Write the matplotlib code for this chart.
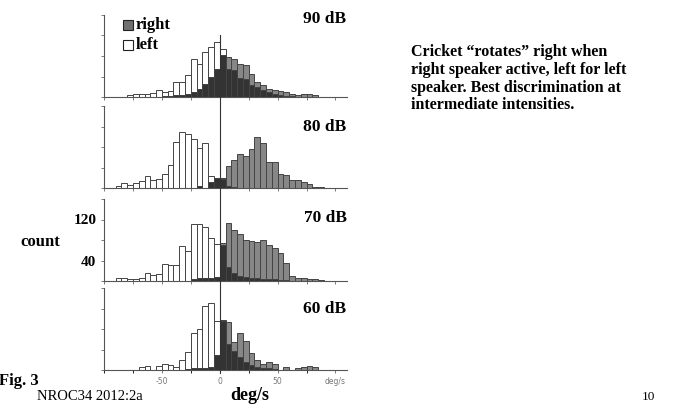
import numpy as np
import matplotlib
matplotlib.use("Agg")
import matplotlib.pyplot as plt
from matplotlib.patches import Rectangle

# bin left edges, deg/s (5 deg/s bins from -90 to +85)
edges = np.arange(-90, 90, 5)

# counts per bin, index 0 -> -90..-85
levels = ["90 dB", "80 dB", "70 dB", "60 dB"]

left_90 = [0, 0, 4, 5, 5, 6, 8, 13, 10, 12, 29, 29, 42, 75, 65, 88, 98, 107,
           94, 55, 52, 38, 36, 23, 20, 13, 10, 6, 4, 2, 1, 0, 0, 0, 0, 0]
right_90 = [0, 0, 0, 0, 0, 0, 0, 0, 1, 2, 3, 4, 6, 10, 16, 26, 40, 55,
            81, 78, 75, 65, 62, 45, 29, 23, 16, 13, 11, 9, 6, 3, 5, 5, 3, 0]

left_80 = [3, 10, 5, 10, 13, 23, 16, 18, 28, 45, 90, 109, 106, 96, 79, 88, 23, 20,
           18, 4, 2, 0, 0, 0, 0, 0, 0, 0, 0, 0, 0, 0, 0, 0, 0, 0]
right_80 = [0, 0, 0, 0, 0, 0, 0, 0, 0, 0, 0, 0, 0, 0, 3, 0, 12, 20,
            20, 43, 54, 67, 62, 77, 100, 88, 51, 51, 28, 25, 16, 15, 12, 7, 2, 2]

left_70 = [5, 6, 4, 4, 6, 16, 11, 13, 34, 31, 31, 68, 58, 112, 112, 106, 83, 73,
           70, 28, 16, 10, 8, 6, 5, 4, 3, 3, 2, 1, 0, 0, 0, 0, 0, 0]
right_70 = [0, 0, 0, 0, 0, 0, 0, 0, 0, 0, 0, 0, 0, 4, 5, 6, 6, 8,
            74, 113, 100, 92, 80, 78, 76, 80, 70, 65, 55, 36, 10, 6, 5, 3, 3, 2]

left_60 = [0, 0, 0, 0, 5, 8, 0, 8, 12, 10, 6, 20, 36, 72, 80, 124, 131, 96,
           95, 50, 38, 25, 15, 10, 6, 4, 3, 2, 0, 0, 0, 0, 0, 0, 0, 0]
right_60 = [0, 0, 0, 0, 0, 0, 0, 0, 0, 0, 0, 0, 2, 3, 3, 4, 5, 29,
            97, 94, 55, 73, 57, 33, 20, 11, 16, 11, 0, 5, 0, 4, 6, 8, 6, 0]

lefts = [left_90, left_80, left_70, left_60]
rights = [right_90, right_80, right_70, right_60]

W, H = 681, 409
fig = plt.figure(figsize=(W / 100, H / 100), dpi=100)
fig.patch.set_facecolor("white")

serif = "Liberation Serif"
baselines = [97, 188, 281, 370]
panel_h = 82
x0, x1 = 104, 347

gray = "#878787"
dark = "#333333"
edge = "#444444"

axes = []
for i, (lft, rgt) in enumerate(zip(lefts, rights)):
    b = baselines[i]
    ax = fig.add_axes([x0 / W, (H - b) / H, (x1 - x0) / W, panel_h / H])
    lft = np.array(lft)
    rgt = np.array(rgt)
    both = np.minimum(lft, rgt)
    ax.bar(edges, lft, width=5, align="edge", color="white", edgecolor=edge, linewidth=0.7)
    ax.bar(edges, rgt, width=5, align="edge", color=gray, edgecolor=edge, linewidth=0.7)
    ax.bar(edges, both, width=5, align="edge", color=dark, edgecolor=edge, linewidth=0.7)
    ax.set_xlim(-100, 110)
    ax.set_ylim(0, 160)
    for s in ["top", "right"]:
        ax.spines[s].set_visible(False)
    for s in ["left", "bottom"]:
        ax.spines[s].set_color("#555555")
        ax.spines[s].set_linewidth(0.8)
    ax.set_yticks([0, 40, 80, 120, 160])
    ax.set_xticks(np.arange(-100, 110, 25))
    ax.tick_params(axis="both", length=2, width=0.6, color="#666666")
    ax.set_yticklabels([])
    ax.set_xticklabels([])
    axes.append(ax)

# level labels
level_y = [19, 127, 218, 309]
for lab, y in zip(levels, level_y):
    fig.text(325 / W, 1 - y / H, lab, ha="center", va="center",
             fontsize=12.5, fontweight="bold", family=serif)

# y labels on the 70 dB panel only
axes[2].set_yticks([0, 40, 80, 120, 160], ["", "40", "", "120", ""])
for t in axes[2].get_yticklabels():
    t.set_fontweight("bold")
    t.set_family(serif)
    t.set_fontsize(11)

# x labels on the bottom panel
axes[3].set_xticks([-50, 0, 50, 100], ["-50", "0", "50", "deg/s"])
axes[3].set_xticks(np.arange(-100, 110, 25), minor=True)
axes[3].tick_params(axis="x", which="both", length=2, labelsize=5.5,
                    labelcolor="#777777", pad=3)

# vertical zero line through all panels
ext = [(-0.12, (baselines[0] - 35) / panel_h), (-0.12, 1.0), (-0.12, 1.0), (-3 / panel_h, 1.0)]
for ax, (lo, hi) in zip(axes, ext):
    ax.axvline(0, ymin=lo, ymax=hi, color="#333333", linewidth=0.8, clip_on=False, zorder=5)

# legend squares
fig.patches.append(Rectangle((123 / W, 1 - 30 / H), 10 / W, 10 / H, transform=fig.transFigure,
                             facecolor="#707070", edgecolor="#222222", linewidth=0.8))
fig.patches.append(Rectangle((123 / W, 1 - 50 / H), 10 / W, 10 / H, transform=fig.transFigure,
                             facecolor="white", edgecolor="#222222", linewidth=0.8))
fig.text(136 / W, 1 - 25 / H, "right", ha="left", va="center", fontsize=12,
         fontweight="bold", family=serif)
fig.text(136 / W, 1 - 45 / H, "left", ha="left", va="center", fontsize=12,
         fontweight="bold", family=serif)

fig.text(40 / W, 1 - 242 / H, "count", ha="center", va="center", fontsize=12,
         fontweight="bold", family=serif)
fig.text(39 / W, 1 - 381 / H, "Fig. 3", ha="right", va="center", fontsize=12,
         fontweight="bold", family=serif)
fig.text(37 / W, 1 - 396 / H, "NROC34 2012:2a", ha="left", va="center", fontsize=10.5,
         family=serif)
fig.text(250 / W, 1 - 395 / H, "deg/s", ha="center", va="center", fontsize=13,
         fontweight="bold", family=serif)
fig.text(648 / W, 1 - 397 / H, "10", ha="center", va="center", fontsize=9.5, family=serif)

fig.text(411 / W, 1 - 44 / H,
         "Cricket \u201crotates\u201d right when\nright speaker active, left for left\n"
         "speaker. Best discrimination at\nintermediate intensities.",
         ha="left", va="top", fontsize=11.5, fontweight="bold", family=serif,
         linespacing=1.15)

fig.savefig("out.png", dpi=100)
